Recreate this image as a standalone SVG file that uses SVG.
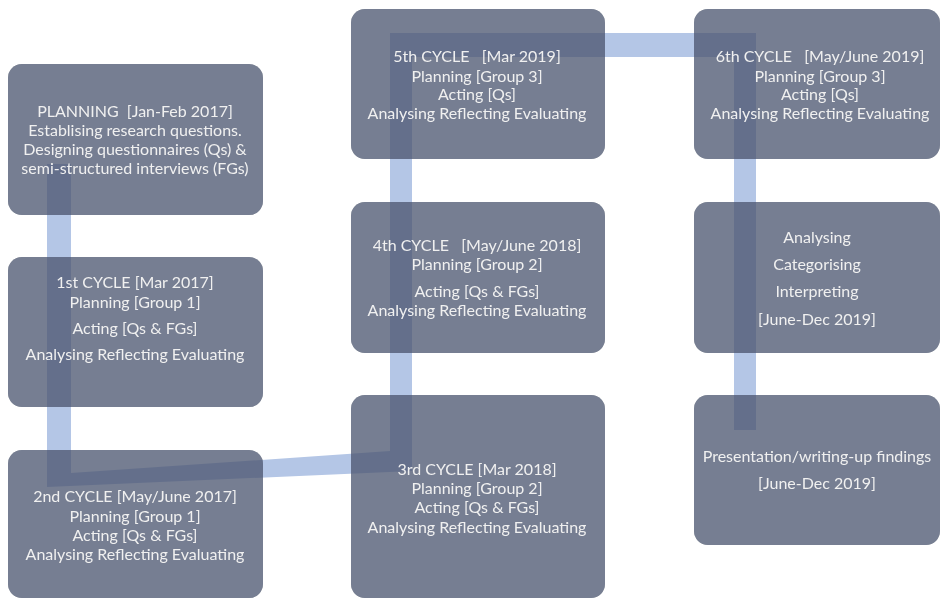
<svg xmlns="http://www.w3.org/2000/svg" width="942" height="600" viewBox="0 0 942 600">
<style>
.box{fill:#7a8080;mix-blend-mode:multiply}
.veil{fill:#727ca4;fill-opacity:0.5}
.t{font-family:Lato,"Noto Sans",sans-serif;font-size:16px;fill:#f0f0f0;text-anchor:middle;white-space:pre}
.bar{fill:#b4c6e6}
</style>
<rect width="942" height="600" fill="#ffffff"/>
<g id="connectors">
<path class="bar" d="M47,164 L71,164 L71,473 L390,451 L390,33 L756,33 L756,430 L734,430 L734,57 L412,57 L412,471 L47,487 Z"/>
</g>
<g id="planning">
<rect class="box" x="8" y="64" width="255" height="151" rx="14"/>
<rect class="veil" x="8" y="64" width="255" height="151" rx="14"/>
<text class="t" x="135" y="117">PLANNING  [Jan-Feb 2017]</text>
<text class="t" x="135" y="136">Establising research questions.</text>
<text class="t" x="135" y="155">Designing questionnaires (Qs) &amp;</text>
<text class="t" x="135" y="174">semi-structured interviews (FGs)</text>
</g>
<g id="cycle1">
<rect class="box" x="8" y="257" width="255" height="150" rx="14"/>
<rect class="veil" x="8" y="257" width="255" height="150" rx="14"/>
<text class="t" x="135" y="288">1st CYCLE [Mar 2017]</text>
<text class="t" x="135" y="308">Planning [Group 1]</text>
<text class="t" x="135" y="334">Acting [Qs &amp; FGs]</text>
<text class="t" x="135" y="360">Analysing Reflecting Evaluating</text>
</g>
<g id="cycle2">
<rect class="box" x="8" y="450" width="255" height="148" rx="14"/>
<rect class="veil" x="8" y="450" width="255" height="148" rx="14"/>
<text class="t" x="135" y="502">2nd CYCLE [May/June 2017]</text>
<text class="t" x="135" y="522">Planning [Group 1]</text>
<text class="t" x="135" y="541">Acting [Qs &amp; FGs]</text>
<text class="t" x="135" y="560">Analysing Reflecting Evaluating</text>
</g>
<g id="cycle3">
<rect class="box" x="351" y="395" width="254" height="203" rx="14"/>
<rect class="veil" x="351" y="395" width="254" height="203" rx="14"/>
<text class="t" x="477" y="475">3rd CYCLE [Mar 2018]</text>
<text class="t" x="477" y="494">Planning [Group 2]</text>
<text class="t" x="477" y="513">Acting [Qs &amp; FGs]</text>
<text class="t" x="477" y="533">Analysing Reflecting Evaluating</text>
</g>
<g id="cycle4">
<rect class="box" x="351" y="202" width="254" height="151" rx="14"/>
<rect class="veil" x="351" y="202" width="254" height="151" rx="14"/>
<text class="t" x="477" y="251">4th CYCLE   [May/June 2018]</text>
<text class="t" x="477" y="270">Planning [Group 2]</text>
<text class="t" x="477" y="297">Acting [Qs &amp; FGs]</text>
<text class="t" x="477" y="316">Analysing Reflecting Evaluating</text>
</g>
<g id="cycle5">
<rect class="box" x="351" y="9" width="254" height="150" rx="14"/>
<rect class="veil" x="351" y="9" width="254" height="150" rx="14"/>
<text class="t" x="477" y="62">5th CYCLE   [Mar 2019]</text>
<text class="t" x="477" y="82">Planning [Group 3]</text>
<text class="t" x="477" y="100">Acting [Qs]</text>
<text class="t" x="477" y="119">Analysing Reflecting Evaluating</text>
</g>
<g id="cycle6">
<rect class="box" x="694" y="9" width="246" height="150" rx="14"/>
<rect class="veil" x="694" y="9" width="246" height="150" rx="14"/>
<text class="t" x="820" y="62">6th CYCLE   [May/June 2019]</text>
<text class="t" x="820" y="82">Planning [Group 3]</text>
<text class="t" x="820" y="100">Acting [Qs]</text>
<text class="t" x="820" y="119">Analysing Reflecting Evaluating</text>
</g>
<g id="analysing">
<rect class="box" x="694" y="202" width="246" height="151" rx="14"/>
<rect class="veil" x="694" y="202" width="246" height="151" rx="14"/>
<text class="t" x="817" y="243">Analysing</text>
<text class="t" x="817" y="270">Categorising</text>
<text class="t" x="817" y="297">Interpreting</text>
<text class="t" x="817" y="325">[June-Dec 2019]</text>
</g>
<g id="presentation">
<rect class="box" x="694" y="395" width="246" height="150" rx="14"/>
<rect class="veil" x="694" y="395" width="246" height="150" rx="14"/>
<text class="t" x="817" y="462">Presentation/writing-up findings</text>
<text class="t" x="817" y="489">[June-Dec 2019]</text>
</g>
</svg>
